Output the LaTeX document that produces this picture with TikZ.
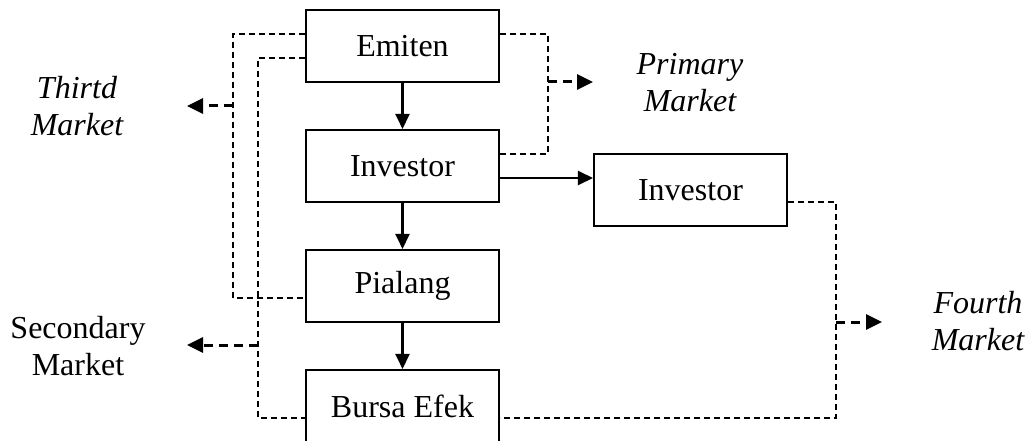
\documentclass[tikz,border=0pt]{standalone}
\usepackage{fontspec}
\setmainfont{Liberation Serif}
\usetikzlibrary{arrows.meta}
\begin{document}
\begin{tikzpicture}[x=1pt,y=-1pt,
  box/.style={draw,line width=2.1pt,minimum width=193pt,minimum height=72pt,inner sep=0pt,font=\fontsize{32}{37}\selectfont},
  lbl/.style={align=center,inner sep=0pt,font=\fontsize{32}{37}\selectfont},
  ilbl/.style={lbl,font=\fontsize{32}{37}\selectfont\itshape},
  flow/.style={line width=2.4pt,-{Triangle[length=15pt,width=14pt]}},
  link/.style={line width=1.9pt,dash pattern=on 6pt off 4pt},
  mktarrow/.style={line width=3pt,dash pattern=on 9pt off 6pt,-{Triangle[length=16pt,width=15pt]}}]
\useasboundingbox (0,0) rectangle (1032,441);
\clip (0,0) rectangle (1032,441);
\node[box] (E) at (402.5,46) {Emiten};
\node[box] (I1) at (402.5,166) {Investor};
\node[box] (P) at (402.5,286) {Pialang};
\node[box] (B) at (402.5,406) {Bursa Efek};
\node[box] (I2) at (690.5,190) {Investor};
\node[ilbl] (TM) at (77,106) {Thirtd\\Market};
\node[lbl] (SM) at (78,346) {Secondary\\Market};
\node[ilbl] (PM) at (690,83) {Primary\\Market};
\node[ilbl] (FM) at (978,321) {Fourth\\Market};
\coordinate (ta) at (187,106);
\coordinate (sa) at (187,345);
\coordinate (pa) at (593,82);
\coordinate (fa) at (882,322);
\draw[flow] (E) -- (I1);
\draw[flow] (I1) -- (P);
\draw[flow] (P) -- (B);
\draw[flow] ([yshift=-12pt]I1.east) -- ([yshift=12pt]I2.west);
\draw[link] ([yshift=12pt]E.west) -- ++(-72,0) coordinate (ol) |- ([yshift=-12pt]P.west);
\draw[link] ([yshift=-12pt]E.west) -- ++(-47,0) coordinate (il) |- ([yshift=-12pt]B.west);
\draw[link] ([yshift=12pt]E.east) -- ++(48,0) coordinate (or) |- ([yshift=12pt]I1.east);
\draw[link] ([yshift=-12pt]I2.east) -- ++(48,0) coordinate (br) |- ([yshift=-12pt]B.east);
\draw[mktarrow] (ol |- ta) -- (ta);
\draw[mktarrow] (il |- sa) -- (sa);
\draw[mktarrow] (or |- pa) -- (pa);
\draw[mktarrow] (br |- fa) -- (fa);
\end{tikzpicture}
\end{document}
